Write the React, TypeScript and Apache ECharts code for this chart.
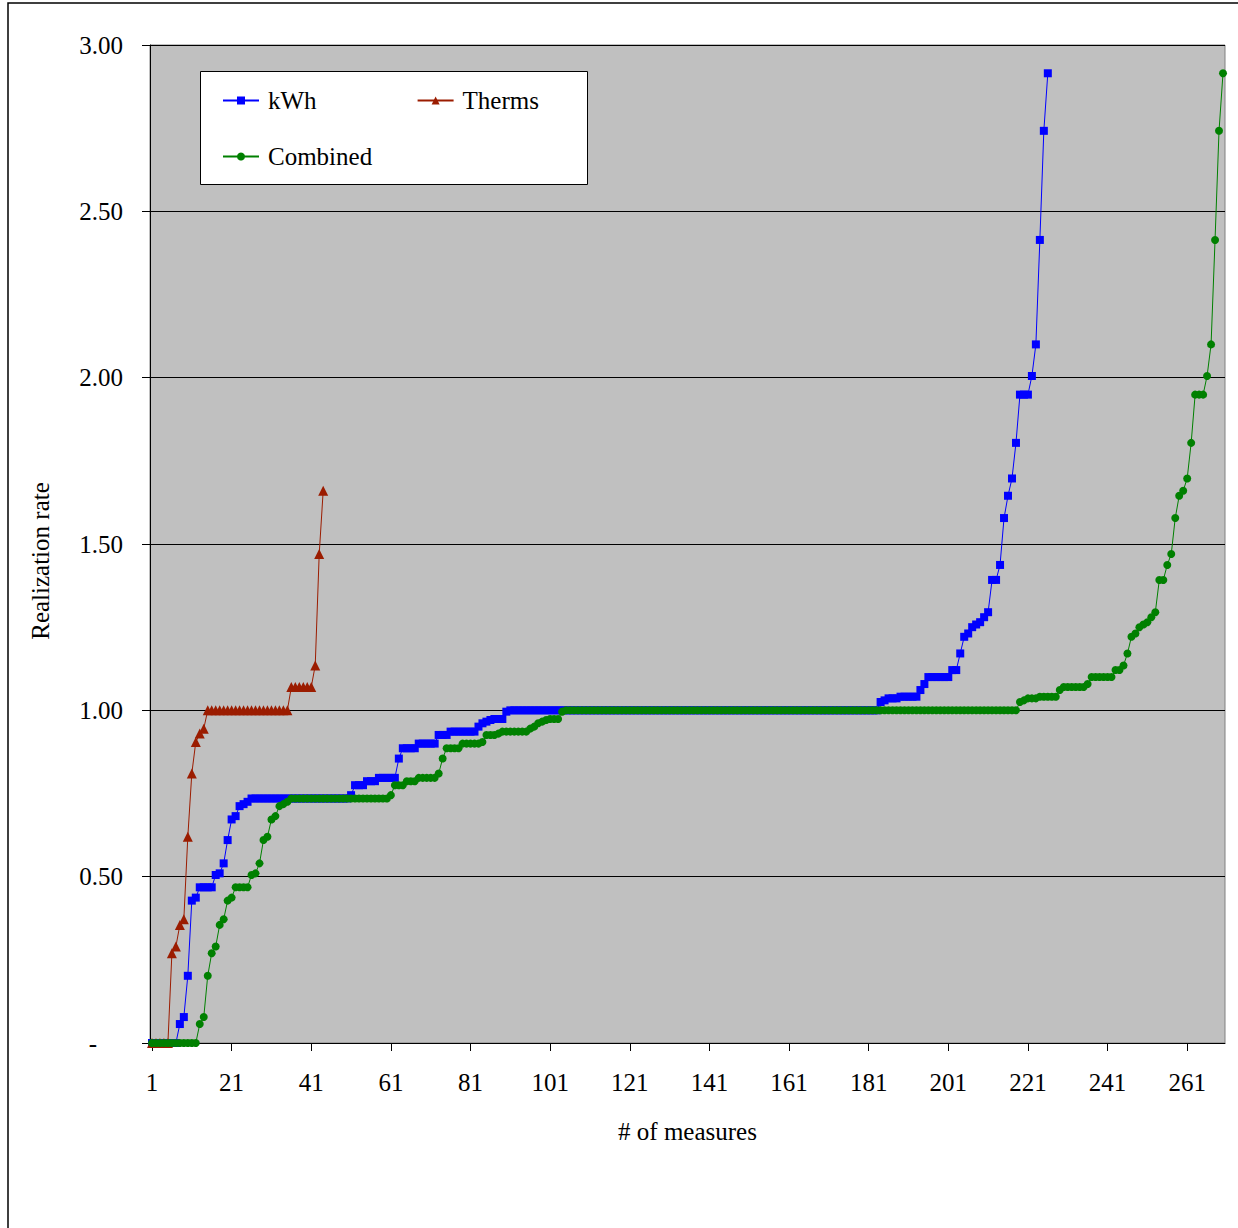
import React, { useEffect, useRef } from "react";
import * as echarts from "echarts";

// x categories: measure index 1..270
const categoryCount = 270;
const categories: string[] = Array.from({ length: categoryCount }, (_, i) => String(i + 1));

// Series values as [value, how many consecutive measures share it]
const kwhRuns: [number, number][] = [
  [0, 7], [0.057, 1], [0.078, 1], [0.202, 1], [0.428, 1], [0.437, 1], [0.468, 4],
  [0.505, 1], [0.51, 1], [0.54, 1], [0.61, 1], [0.672, 1], [0.682, 1], [0.712, 1],
  [0.718, 1], [0.725, 1], [0.735, 25], [0.745, 1], [0.775, 3], [0.787, 3], [0.797, 5],
  [0.855, 1], [0.886, 4], [0.9, 5], [0.926, 3], [0.936, 7], [0.951, 1], [0.961, 1],
  [0.966, 1], [0.971, 1], [0.974, 3], [0.996, 1], [1.0, 93], [1.025, 1], [1.03, 1],
  [1.036, 3], [1.041, 5], [1.061, 1], [1.079, 1], [1.1, 6], [1.121, 2], [1.171, 1],
  [1.221, 1], [1.231, 1], [1.25, 1], [1.258, 1], [1.265, 1], [1.28, 1], [1.295, 1],
  [1.392, 2], [1.437, 1], [1.578, 1], [1.645, 1], [1.697, 1], [1.804, 1], [1.949, 3],
  [2.005, 1], [2.1, 1], [2.414, 1], [2.742, 1], [2.915, 1],
];

const thermRuns: [number, number][] = [
  [0, 5], [0.27, 1], [0.29, 1], [0.355, 1], [0.372, 1], [0.62, 1], [0.81, 1],
  [0.905, 1], [0.93, 1], [0.945, 1], [1.0, 21], [1.07, 6], [1.135, 1], [1.47, 1], [1.66, 1],
];

const combinedRuns: [number, number][] = [
  [0, 12], [0.057, 1], [0.078, 1], [0.202, 1], [0.27, 1], [0.29, 1], [0.355, 1],
  [0.372, 1], [0.428, 1], [0.437, 1], [0.468, 4], [0.505, 1], [0.51, 1], [0.54, 1],
  [0.61, 1], [0.62, 1], [0.672, 1], [0.682, 1], [0.712, 1], [0.718, 1], [0.725, 1],
  [0.735, 25], [0.745, 1], [0.775, 3], [0.787, 3], [0.797, 5], [0.81, 1], [0.855, 1],
  [0.886, 4], [0.9, 5], [0.905, 1], [0.926, 3], [0.93, 1], [0.936, 7], [0.945, 1],
  [0.951, 1], [0.961, 1], [0.966, 1], [0.971, 1], [0.974, 3], [0.996, 1], [1.0, 114],
  [1.025, 1], [1.03, 1], [1.036, 3], [1.041, 5], [1.061, 1], [1.07, 6], [1.079, 1],
  [1.1, 6], [1.121, 2], [1.135, 1], [1.171, 1], [1.221, 1], [1.231, 1], [1.25, 1],
  [1.258, 1], [1.265, 1], [1.28, 1], [1.295, 1], [1.392, 2], [1.437, 1], [1.47, 1],
  [1.578, 1], [1.645, 1], [1.66, 1], [1.697, 1], [1.804, 1], [1.949, 3], [2.005, 1],
  [2.1, 1], [2.414, 1], [2.742, 1], [2.915, 1],
];

const seriesNames = ["kWh", "Therms", "Combined"];
const yTickValues = [0, 0.5, 1.0, 1.5, 2.0, 2.5, 3.0];

function expand(runs: [number, number][]): number[] {
  const out: number[] = [];
  for (const [v, n] of runs) for (let i = 0; i < n; i++) out.push(v);
  return out;
}

const FONT = "'Liberation Serif', 'Times New Roman', serif";

export default function App() {
  const ref = useRef<HTMLDivElement>(null);

  useEffect(() => {
    if (!ref.current) return;
    const chart = echarts.init(ref.current, null, { renderer: "svg" });
    const kwh = expand(kwhRuns);
    const therms = expand(thermRuns);
    const combined = expand(combinedRuns);

    const legendCommon = {
      orient: "horizontal",
      itemWidth: 36,
      itemHeight: 10,
      padding: 0,
      textStyle: { fontSize: 25, fontFamily: FONT, color: "#000", padding: [0, 0, 0, 4] },
    };

    chart.setOption({
      animation: false,
      backgroundColor: "#ffffff",
      textStyle: { fontFamily: FONT, color: "#000" },
      grid: {
        left: 150,
        top: 45,
        right: 13,
        bottom: 185,
        show: true,
        backgroundColor: "#C0C0C0",
        borderColor: "#808080",
        borderWidth: 1,
      },
      legend: [
        { ...legendCommon, data: [seriesNames[0], seriesNames[1]], left: 222, top: 88, itemGap: 100 },
        { ...legendCommon, data: [seriesNames[2]], left: 222, top: 144 },
      ],
      xAxis: {
        type: "category",
        data: categories,
        boundaryGap: true,
        axisLine: { show: true, lineStyle: { color: "#000", width: 1 } },
        axisTick: { show: true, interval: 19, alignWithLabel: true, length: 8, lineStyle: { color: "#000" } },
        axisLabel: { interval: 19, margin: 27, fontSize: 25, fontFamily: FONT, color: "#000" },
        splitLine: { show: false },
        name: "# of measures",
        nameLocation: "middle",
        nameGap: 76,
        nameTextStyle: { fontSize: 25, fontFamily: FONT, color: "#000" },
      },
      yAxis: {
        type: "value",
        min: yTickValues[0],
        max: yTickValues[yTickValues.length - 1],
        interval: 0.5,
        axisLine: { show: true, lineStyle: { color: "#000", width: 1 } },
        axisTick: { show: true, length: 8, lineStyle: { color: "#000" } },
        axisLabel: {
          margin: 27,
          fontSize: 25,
          fontFamily: FONT,
          color: "#000",
          formatter: (v: number) => (v === 0 ? "{d|-}" : v.toFixed(2)),
          rich: { d: { fontSize: 25, fontFamily: FONT, color: "#000", padding: [0, 26, 0, 0] } },
        },
        splitLine: { show: true, lineStyle: { color: "#000", width: 1 } },
      },
      series: [
        {
          name: seriesNames[0],
          type: "line",
          data: kwh,
          symbol: "rect",
          symbolSize: 8,
          showAllSymbol: true,
          lineStyle: { color: "#0000FF", width: 1 },
          itemStyle: { color: "#0000FF" },
        },
        {
          name: seriesNames[1],
          type: "line",
          data: therms,
          symbol: "triangle",
          symbolSize: 10,
          showAllSymbol: true,
          lineStyle: { color: "#9B1C00", width: 1 },
          itemStyle: { color: "#9B1C00" },
        },
        {
          name: seriesNames[2],
          type: "line",
          data: combined,
          symbol: "circle",
          symbolSize: 8,
          showAllSymbol: true,
          lineStyle: { color: "#008000", width: 1 },
          itemStyle: { color: "#008000" },
        },
      ],
      graphic: [
        {
          type: "rect",
          silent: true,
          z: 0,
          shape: { x: 8, y: 3, width: 1260, height: 1260 },
          style: { fill: "none", stroke: "#000", lineWidth: 1.5 },
        },
        {
          type: "rect",
          silent: true,
          z: 3,
          shape: { x: 200.5, y: 71.5, width: 387, height: 113 },
          style: { fill: "#ffffff", stroke: "#000", lineWidth: 1 },
        },
        {
          type: "text",
          silent: true,
          x: 40,
          y: 561,
          rotation: Math.PI / 2,
          style: {
            text: "Realization rate",
            fontSize: 25,
            fontFamily: FONT,
            fill: "#000",
            align: "center",
            verticalAlign: "middle",
          },
        },
      ],
    });

    return () => chart.dispose();
  }, []);

  return (
    <div
      ref={ref}
      style={{ position: "absolute", left: 0, top: 0, width: 1238, height: 1228 }}
    />
  );
}
